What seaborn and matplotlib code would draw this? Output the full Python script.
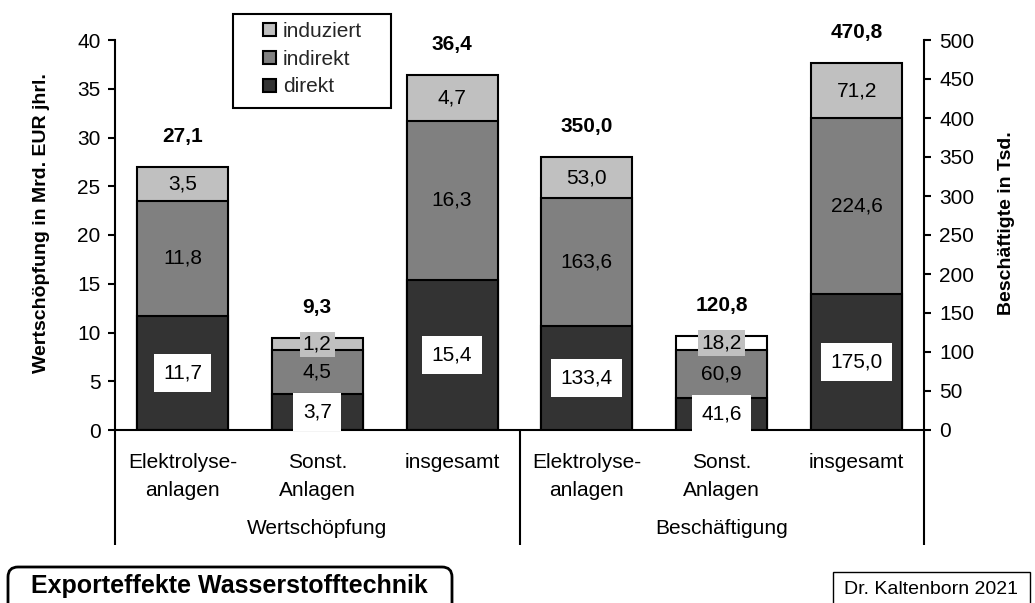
import matplotlib
matplotlib.use("Agg")
import matplotlib.pyplot as plt
import pandas as pd
import seaborn as sns
from matplotlib.patches import Patch, Rectangle, FancyBboxPatch

# ---- data -------------------------------------------------------------
groups = ["Wertschöpfung", "Beschäftigung"]
categories = ["Elektrolyse-\nanlagen", "Sonst.\nAnlagen", "insgesamt"]
components = ["direkt", "indirekt", "induziert"]

ws_direkt = [11.7, 3.7, 15.4]
ws_indirekt = [11.8, 4.5, 16.3]
ws_induziert = [3.5, 1.2, 4.7]
ws_total = [27.1, 9.3, 36.4]

bs_direkt = [133.4, 41.6, 175.0]
bs_indirekt = [163.6, 60.9, 224.6]
bs_induziert = [53.0, 18.2, 71.2]
bs_total = [350.0, 120.8, 470.8]

left_ticks = [0, 5, 10, 15, 20, 25, 30, 35, 40]
right_ticks = [0, 50, 100, 150, 200, 250, 300, 350, 400, 450, 500]

title_text = "Exporteffekte Wasserstofftechnik"
credit_text = "Dr. Kaltenborn 2021"

# ---- style ------------------------------------------------------------
colors = {"direkt": "#333333", "indirekt": "#808080", "induziert": "#c0c0c0"}
BAR_W = 0.675
EDGE_LW = 1.5
FS = 15

sns.set_theme(style="white")
plt.rcParams["font.family"] = ["Liberation Sans", "DejaVu Sans"]

W, H = 1035, 603
fig = plt.figure(figsize=(W / 100, H / 100), dpi=100)
ax = fig.add_axes([115 / W, 1 - 430 / H, (924 - 115) / W, (430 - 40) / H])
ax2 = ax.twinx()

order = [f"{g}|{c}" for g in groups for c in categories]


def fmt(v):
    return f"{v:.1f}".replace(".", ",")


def px(x, y):
    """Pixel position (from top-left) -> inches for fig.dpi_scale_trans."""
    return x / 100, (H - y) / 100


def draw_group(axis, gi, direkt, indirekt, induziert, totals, top_fill):
    ids = order[gi * 3:(gi + 1) * 3]
    df = pd.DataFrame({"id": ids, "direkt": direkt,
                       "indirekt": indirekt, "induziert": induziert})
    df["lvl1"] = df["direkt"]
    df["lvl2"] = df["lvl1"] + df["indirekt"]
    df["lvl3"] = df["lvl2"] + df["induziert"]

    common = dict(data=df, x="id", order=order, width=BAR_W, edgecolor="black",
                  linewidth=EDGE_LW, errorbar=None, saturation=1, ax=axis)
    # stacked by overdrawing cumulative heights, tallest first
    sns.barplot(y="lvl3", hue="id", palette=dict(zip(ids, top_fill)),
                legend=False, **common)
    sns.barplot(y="lvl2", color=colors["indirekt"], **common)
    sns.barplot(y="lvl1", color=colors["direkt"], **common)

    for k in range(3):
        x = gi * 3 + k
        # direkt label on a white box
        axis.text(x, df["lvl1"][k] / 2, fmt(direkt[k]), ha="center", va="center",
                  fontsize=FS, color="black", zorder=6,
                  bbox=dict(boxstyle="square,pad=0.45", fc="white", ec="none"))
        axis.text(x, (df["lvl1"][k] + df["lvl2"][k]) / 2, fmt(indirekt[k]),
                  ha="center", va="center", fontsize=FS, color="black", zorder=6)
        top_box = None
        if k == 1:
            top_box = dict(boxstyle="square,pad=0.15", fc=colors["induziert"], ec="none")
        axis.text(x, (df["lvl2"][k] + df["lvl3"][k]) / 2, fmt(induziert[k]),
                  ha="center", va="center", fontsize=FS, color="black", zorder=6,
                  bbox=top_box)
        axis.annotate(fmt(totals[k]), (x, df["lvl3"][k]), xytext=(0, 22),
                      textcoords="offset points", ha="center", va="center",
                      fontsize=FS, fontweight="bold", color="black")


draw_group(ax, 0, ws_direkt, ws_indirekt, ws_induziert, ws_total,
           [colors["induziert"]] * 3)
draw_group(ax2, 1, bs_direkt, bs_indirekt, bs_induziert, bs_total,
           [colors["induziert"], "white", colors["induziert"]])

# ---- axes -------------------------------------------------------------
ax.set_xlim(-0.5, 5.5)
ax.set_ylim(0, 40)
ax2.set_ylim(0, 500)
ax.set_yticks(left_ticks)
ax.set_yticklabels([str(t) for t in left_ticks])
ax2.set_yticks(right_ticks)
ax2.set_yticklabels([str(t) for t in right_ticks])
ax.set_xticks([])
ax2.set_xticks([])
ax.set_xlabel("")
ax2.set_xlabel("")

for s in ["top", "right"]:
    ax.spines[s].set_visible(False)
for s in ["top", "left", "bottom"]:
    ax2.spines[s].set_visible(False)
for sp in [ax.spines["left"], ax.spines["bottom"], ax2.spines["right"]]:
    sp.set_color("black")
    sp.set_linewidth(EDGE_LW)
    sp.set_zorder(2)

ax.tick_params(axis="y", left=True, direction="out", length=5, width=EDGE_LW,
               labelsize=FS, pad=5.5, colors="black")
ax2.tick_params(axis="y", right=True, direction="out", length=5, width=EDGE_LW,
                labelsize=FS, pad=6, colors="black")

ax.set_ylabel("Wertschöpfung in Mrd. EUR jhrl.", fontsize=14, fontweight="bold",
              color="black")
ax.yaxis.set_label_coords(-0.08, 0.53)
ax2.set_ylabel("Beschäftigte in Tsd.", fontsize=14, fontweight="bold", color="black")
ax2.yaxis.set_label_coords(1.091, 0.53)

# multi-level category axis
xt = ax.get_xaxis_transform()
below = -(545 - 430) / 390
for x in [-0.5, 2.5, 5.5]:
    ax.plot([x, x], [0, below], transform=xt, clip_on=False, color="black",
            lw=EDGE_LW, solid_capstyle="butt")

line1_y = -(462 - 430) / 390
line2_y = -(490 - 430) / 390
group_y = -(529 - 430) / 390
for gi, g in enumerate(groups):
    for k, c in enumerate(categories):
        x = gi * 3 + k
        for li, part in enumerate(c.split("\n")):
            ax.text(x, line1_y if li == 0 else line2_y, part, transform=xt,
                    ha="center", va="center", fontsize=FS, color="black")
    ax.text(gi * 3 + 1, group_y, g, transform=xt, ha="center", va="center",
            fontsize=FS, color="black")

# ---- legend -----------------------------------------------------------
frame = Rectangle(px(233, 108), (391 - 233) / 100, (108 - 14) / 100,
                  transform=fig.dpi_scale_trans, fc="white", ec="black",
                  lw=EDGE_LW, zorder=4)
fig.add_artist(frame)
handles = [Patch(facecolor=colors[c], edgecolor="black", linewidth=EDGE_LW)
           for c in components[::-1]]
leg = fig.legend(handles, components[::-1], loc="upper left",
                 bbox_to_anchor=px(263, 22), bbox_transform=fig.dpi_scale_trans,
                 frameon=False, borderpad=0, borderaxespad=0, handlelength=0.6,
                 handleheight=0.6, handletextpad=0.35, labelspacing=0.42,
                 fontsize=FS)
leg.set_zorder(5)

# ---- footer boxes -----------------------------------------------------
title_box = FancyBboxPatch(px(8, 625), (452 - 8) / 100, (625 - 567) / 100,
                           boxstyle="round,pad=0,rounding_size=0.1",
                           transform=fig.dpi_scale_trans, fc="white", ec="black",
                           lw=2)
fig.add_artist(title_box)
fig.text(*px(229, 586), title_text, transform=fig.dpi_scale_trans, ha="center",
         va="center", fontsize=18, fontweight="bold", color="black")

credit_box = Rectangle(px(833, 615), (1030 - 833) / 100, (615 - 572) / 100,
                       transform=fig.dpi_scale_trans, fc="white", ec="black", lw=1)
fig.add_artist(credit_box)
fig.text(*px(931, 589), credit_text, transform=fig.dpi_scale_trans, ha="center",
         va="center", fontsize=14, color="black")

fig.savefig("out.png", dpi=100)
